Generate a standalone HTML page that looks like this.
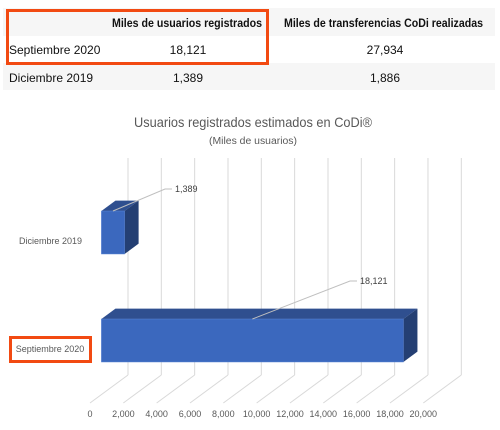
<!DOCTYPE html>
<html><head><meta charset="utf-8"><style>
body{margin:0;width:500px;height:430px;background:#fff;overflow:hidden;font-family:"Liberation Sans",Arial,sans-serif}
</style></head><body>
<svg width="500" height="430" style="position:absolute;left:0;top:0">
<g font-family="Liberation Sans, Arial, sans-serif" font-size="12" fill="#111">
<rect x="3" y="8" width="492" height="28" fill="#f6f6f6"/>
<rect x="3" y="63" width="492" height="27" fill="#f6f6f6"/>
<text x="112" y="27" font-size="11.5" font-weight="bold" textLength="150" lengthAdjust="spacingAndGlyphs">Miles de usuarios registrados</text>
<text x="284" y="27" font-size="11.5" font-weight="bold" textLength="199" lengthAdjust="spacingAndGlyphs">Miles de transferencias CoDi realizadas</text>
<text x="9" y="54">Septiembre 2020</text>
<text x="188" y="54" text-anchor="middle">18,121</text>
<text x="385" y="54" text-anchor="middle">27,934</text>
<text x="9" y="82">Diciembre 2019</text>
<text x="188" y="82" text-anchor="middle">1,389</text>
<text x="385" y="82" text-anchor="middle">1,886</text>
<rect x="7.5" y="10.5" width="260" height="53" fill="none" stroke="#f24a12" stroke-width="3"/>
</g>
<text x="253" y="127" text-anchor="middle" font-size="14" fill="#595959" textLength="238" lengthAdjust="spacingAndGlyphs">Usuarios registrados estimados en CoDi®</text>
<text x="253" y="144" text-anchor="middle" font-size="10" fill="#595959" textLength="88" lengthAdjust="spacingAndGlyphs">(Miles de usuarios)</text>
<g id="grid"></g>
<g id="bars"></g>
<g id="labels"></g>
<rect x="10.5" y="337.5" width="80" height="24" fill="none" stroke="#f24a12" stroke-width="3"/>
</svg>
<script>
const categories=["Septiembre 2020","Diciembre 2019"];
const values=[18121,1389];
const valueLabels=["18,121","1,389"];
const ticks=[0,2000,4000,6000,8000,10000,12000,14000,16000,18000,20000];
const tickLabels=["0","2,000","4,000","6,000","8,000","10,000","12,000","14,000","16,000","18,000","20,000"];
const NS="http://www.w3.org/2000/svg";
const FX=90,FY=403,DX=38,DY=-28,PX=33.33/2000,TOPY=158;
function px(v,f){return FX+DX*f+v*PX;}
function py(f){return FY+DY*f;}
function mk(tag,attrs,parent){const e=document.createElementNS(NS,tag);for(const k in attrs)e.setAttribute(k,attrs[k]);parent.appendChild(e);return e;}
const grid=document.getElementById('grid'),bars=document.getElementById('bars'),labs=document.getElementById('labels');
ticks.forEach((t,i)=>{
  const l1=mk('line',{x1:px(t,0),y1:py(0),x2:px(t,1),y2:py(1),stroke:'#d9d9d9','stroke-width':1},grid);
  
  
  const l2=mk('line',{x1:px(t,1),y1:py(1),x2:px(t,1),y2:TOPY,stroke:'#d9d9d9','stroke-width':1},grid);
  
  
  const tx=mk('text',{x:px(t,0),y:417,'text-anchor':'middle','font-size':9,fill:'#595959'},labs);
  tx.textContent=tickLabels[i];
  
  
});
const F0=0.3,F1=0.67;
const bandTop=[319,211],H=43;
const catLabelPos=[[50,352,'middle'],[82,244,'end']];
const labelPos=[[360,284],[175,192]];
categories.forEach((c,i)=>{
  const v=values[i],y=bandTop[i];
  const x0=px(0,F0),x1=px(v,F0),ddx=DX*(F1-F0),ddy=DY*(F1-F0);
  const g=mk('g',{},bars);
  
  
  mk('polygon',{points:`${x0},${y} ${x0+ddx},${y+ddy} ${x1+ddx},${y+ddy} ${x1},${y}`,fill:'#2f4f8f'},g);
  mk('polygon',{points:`${x1},${y} ${x1+ddx},${y+ddy} ${x1+ddx},${y+H+ddy} ${x1},${y+H}`,fill:'#243f73'},g);
  mk('rect',{x:x0,y:y,width:x1-x0,height:H,fill:'#3b68be',stroke:'#5b86d6','stroke-width':0.5},g);
  const lx=labelPos[i][0],ly=labelPos[i][1];
  const ax=(x0+x1)/2,ay=y;
  const ln=mk('polyline',{points:`${ax},${ay} ${lx-10},${ly-3} ${lx-3},${ly-3}`,fill:'none',stroke:'#bfbfbf','stroke-width':1},labs);
  
  
  const t=mk('text',{x:lx,y:ly,'font-size':9,fill:'#404040'},labs);
  t.textContent=valueLabels[i];
  
  
  const cl=mk('text',{x:catLabelPos[i][0],y:catLabelPos[i][1],'text-anchor':catLabelPos[i][2],'font-size':9,fill:'#595959'},labs);
  cl.textContent=c;
  
  
});
</script>
</body></html>
